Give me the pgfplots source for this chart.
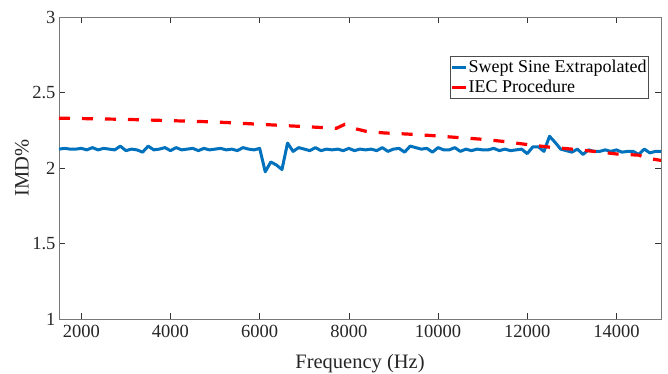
\documentclass[border=0pt]{standalone}
\usepackage{fontspec}
\setmainfont{Liberation Serif}
\usepackage{pgfplots}
\pgfplotsset{compat=1.18}
\definecolor{mblue}{RGB}{0,114,189}
\definecolor{axgray}{RGB}{120,120,120}
\begin{document}
\begin{tikzpicture}[x=1pt,y=1pt]
\useasboundingbox (-59,-55) rectangle (609,319);
\begin{axis}[
  at={(0,0)}, anchor=south west,
  scale only axis, width=602pt, height=302pt,
  xmin=1500, xmax=15000, ymin=1, ymax=3,
  xtick={2000,4000,6000,8000,10000,12000,14000},
  ytick={1,1.5,2,2.5,3},
  scaled x ticks=false,
  /pgf/number format/assume math mode=true,
  tick label style={font=\fontsize{18.5}{21}\selectfont, text=black!85},
  xticklabel style={yshift=-3pt, /pgf/number format/.cd, set thousands separator={}, fixed},
  yticklabel style={/pgf/number format/.cd, fixed},
  label style={font=\fontsize{20.5}{23}\selectfont, text=black!85},
  xlabel={Frequency (Hz)},
  ylabel={IMD\%},
  xlabel style={at={(axis description cs:0.5,0)}, anchor=base, yshift=-49pt},
  ylabel style={at={(axis description cs:0,0.5)}, anchor=center, yshift=37pt},
  axis line style={axgray, line width=0.8pt},
  tick style={black!80, line width=0.6pt},
  tick align=inside, major tick length=6pt,
  xtick pos=both, ytick pos=both,
  legend style={at={(0.98,0.871)}, anchor=north east, draw=black!70, line width=0.6pt,
    font=\fontsize{18}{22}\selectfont, inner xsep=1pt, inner ysep=2pt, row sep=2pt,
    column sep=0pt, nodes={inner xsep=1pt, inner ysep=2pt},
    legend cell align=left},
  legend image code/.code={\draw[#1, solid, line width=2.6pt] (-1pt,0pt) -- (13pt,0pt);},
]
\addplot[mblue, line width=3pt, line join=round] coordinates {
(1500,2.125)(1625,2.13)(1750,2.125)(1875,2.125)(2000,2.13)(2125,2.12)(2250,2.135)(2375,2.12)
(2500,2.13)(2625,2.125)(2750,2.12)(2875,2.145)(3000,2.115)(3125,2.125)(3250,2.12)(3375,2.105)
(3500,2.145)(3625,2.12)(3750,2.125)(3875,2.135)(4000,2.115)(4125,2.135)(4250,2.12)(4375,2.125)
(4500,2.13)(4625,2.115)(4750,2.13)(4875,2.12)(5000,2.125)(5125,2.13)(5250,2.12)(5375,2.125)
(5500,2.115)(5625,2.135)(5750,2.125)(5875,2.12)(6000,2.13)(6125,1.975)(6250,2.04)(6375,2.02)
(6500,1.99)(6625,2.165)(6750,2.11)(6875,2.135)(7000,2.125)(7125,2.115)(7250,2.135)(7375,2.115)
(7500,2.125)(7625,2.12)(7750,2.125)(7875,2.115)(8000,2.13)(8125,2.115)(8250,2.125)(8375,2.12)
(8500,2.125)(8625,2.115)(8750,2.135)(8875,2.11)(9000,2.125)(9125,2.13)(9250,2.105)(9375,2.145)
(9500,2.135)(9625,2.125)(9750,2.13)(9875,2.105)(10000,2.135)(10125,2.12)(10250,2.12)(10375,2.135)
(10500,2.11)(10625,2.125)(10750,2.115)(10875,2.125)(11000,2.12)(11125,2.12)(11250,2.13)(11375,2.115)
(11500,2.125)(11625,2.115)(11750,2.12)(11875,2.125)(12000,2.095)(12125,2.14)(12250,2.14)(12375,2.11)
(12500,2.21)(12625,2.17)(12750,2.125)(12875,2.115)(13000,2.105)(13125,2.125)(13250,2.09)(13375,2.12)
(13500,2.11)(13625,2.11)(13750,2.12)(13875,2.11)(14000,2.12)(14125,2.105)(14250,2.11)(14375,2.11)
(14500,2.09)(14625,2.125)(14750,2.1)(14875,2.11)(15000,2.11)
};
\addlegendentry{Swept Sine Extrapolated}
\addplot[red, line width=3.2pt, dash pattern=on 11pt off 12pt] coordinates {
(1500,2.33)(3000,2.322)(5000,2.305)(7720,2.263)(7910,2.289)(8175,2.258)(8400,2.242)(8800,2.232)
(9300,2.225)(9850,2.215)(10300,2.205)(11000,2.19)(11500,2.175)(12000,2.155)(12500,2.138)(13000,2.125)
(13500,2.11)(14000,2.093)(14500,2.085)(14700,2.065)(15000,2.05)
};
\addlegendentry{IEC Procedure}
\end{axis}
\end{tikzpicture}
\end{document}
